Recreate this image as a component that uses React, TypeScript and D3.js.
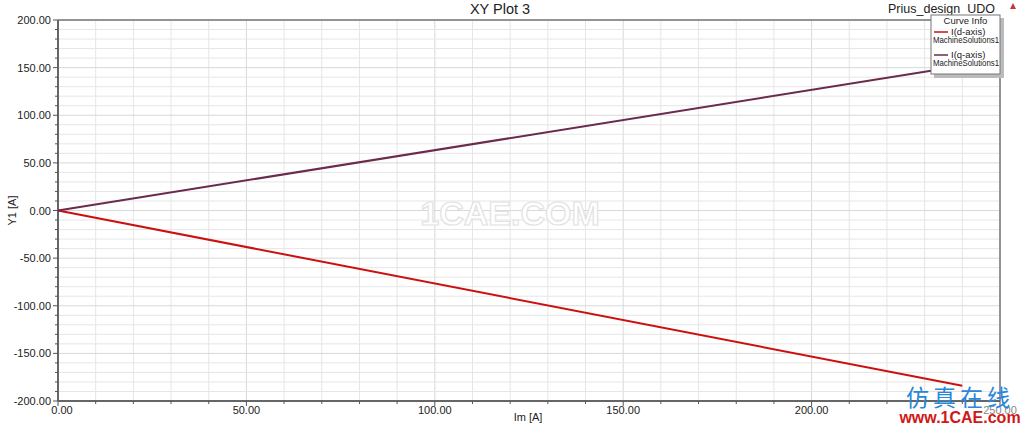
import React from "react";
import * as d3 from "d3";

const imValues = [0, 240];
const idValues = [0, -184];
const iqValues = [0, 152];
const xTicks = [0, 50, 100, 150, 200, 250];
const yTicks = [-200, -150, -100, -50, 0, 50, 100, 150, 200];
const seriesNames = ["I(d-axis)", "I(q-axis)"];
const seriesColors = ["#cc1010", "#6a2b4c"];

const W = 1023, H = 427;
const M = { left: 58, right: 1000, top: 20, bottom: 401 };

export default function App() {
  const x = d3.scaleLinear().domain([0, 250]).range([M.left, M.right]);
  const y = d3.scaleLinear().domain([-200, 200]).range([M.bottom, M.top]);
  const minorX = d3.range(0, 251, 10);
  const minorY = d3.range(-200, 201, 10);
  const line = d3.line<[number, number]>().x(d => x(d[0])).y(d => y(d[1]));
  const series = [idValues, iqValues].map(vals => imValues.map((v, i) => [v, vals[i]] as [number, number]));
  const font = "Arial, 'Liberation Sans', sans-serif";
  return (
    <svg width={W} height={H} style={{ position: "absolute", left: 0, top: 0, background: "#fff" }} fontFamily={font}>
      <rect x={0} y={0} width={W} height={H} fill="#fff" />
      {minorX.map(v => (
        <line key={"gx" + v} x1={x(v)} x2={x(v)} y1={M.top} y2={M.bottom} stroke={v % 50 === 0 ? "#d8d8d8" : "#e6e6e6"} strokeWidth={1} />
      ))}
      {minorY.map(v => (
        <line key={"gy" + v} x1={M.left} x2={M.right} y1={y(v)} y2={y(v)} stroke={v % 50 === 0 ? "#d8d8d8" : "#e6e6e6"} strokeWidth={1} />
      ))}
      <text x={510} y={225} textAnchor="middle" fontSize={34} fontWeight="bold" fill="#fff" stroke="#e2e2e2" strokeWidth={1.2}>1CAE.COM</text>
      <line x1={M.left} x2={M.right} y1={M.top} y2={M.top} stroke="#777" strokeWidth={1.5} />
      <line x1={M.right} x2={M.right} y1={M.top} y2={M.bottom} stroke="#777" strokeWidth={1.5} />
      <line x1={M.left} x2={M.left} y1={M.top} y2={M.bottom} stroke="#666" strokeWidth={2} />
      <line x1={M.left} x2={M.right} y1={M.bottom} y2={M.bottom} stroke="#666" strokeWidth={2} />
      {minorY.map(v => (
        <line key={"ty" + v} x1={M.left - (v % 50 === 0 ? 5 : 3)} x2={M.left} y1={y(v)} y2={y(v)} stroke="#555" />
      ))}
      {minorX.map(v => (
        <line key={"tx" + v} x1={x(v)} x2={x(v)} y1={M.bottom} y2={M.bottom + (v % 50 === 0 ? 5 : 3)} stroke="#555" />
      ))}
      {yTicks.map(v => (
        <text key={"ly" + v} x={M.left - 7} y={y(v) + 4} textAnchor="end" fontSize={11} fill="#222">{v.toFixed(2)}</text>
      ))}
      {xTicks.map(v => (
        <text key={"lx" + v} x={x(v) + (v === 0 ? 4 : 0)} y={414} textAnchor="middle" fontSize={11} fill={v === 250 ? "#888" : "#222"}>{v.toFixed(2)}</text>
      ))}
      <text x={528} y={421} textAnchor="middle" fontSize={11} fill="#222">Im [A]</text>
      <text transform={`translate(16,${y(0)}) rotate(-90)`} textAnchor="middle" fontSize={11} fill="#222">Y1 [A]</text>
      <text x={500} y={14} textAnchor="middle" fontSize={14.5} fill="#222">XY Plot 3</text>
      <text x={995} y={13} textAnchor="end" fontSize={12.5} fill="#222">Prius_design_UDO</text>
      <path d="M1010,9 L1013,3 L1016,9 Z" fill="#cc3333" />
      {series.map((s, i) => (
        <path key={"s" + i} d={line(s) || ""} fill="none" stroke={seriesColors[i]} strokeWidth={2} />
      ))}
      <rect x={934} y={18} width={70} height={60} fill="#bbb" />
      <rect x={931} y={15} width={69} height={59} fill="#fff" stroke="#777" strokeWidth={1} />
      <text x={965.5} y={24} textAnchor="middle" fontSize={9.5} fill="#222">Curve Info</text>
      {seriesNames.map((n, i) => (
        <g key={"lg" + i} transform={`translate(0,${i * 23})`}>
          <line x1={934} x2={948} y1={32} y2={32} stroke={seriesColors[i]} strokeWidth={1.5} />
          <text x={951} y={35} fontSize={9.5} fill="#222">{n}</text>
          <text x={933} y={43} fontSize={9.5} fill="#222" textLength={66} lengthAdjust="spacingAndGlyphs">MachineSolutions1</text>
        </g>
      ))}
      <text x={960} y={406} textAnchor="middle" fontSize={23} fill="#2a86d6" fontFamily="'Noto Sans CJK SC', sans-serif" letterSpacing={4}>仿真在线</text>
      <text x={960} y={423} textAnchor="middle" fontSize={16} fontWeight="bold" fill="#d01818">www.1CAE.com</text>
    </svg>
  );
}
